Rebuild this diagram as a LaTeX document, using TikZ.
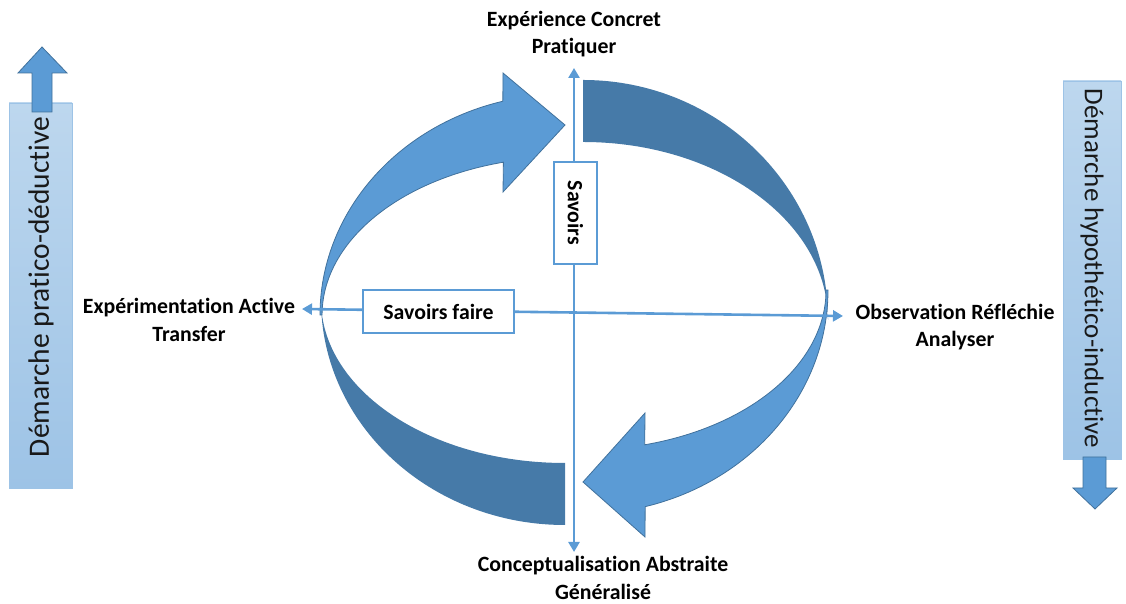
\documentclass[tikz,border=0pt]{standalone}
\usepackage{fontspec}
\setmainfont{Carlito}[Ligatures={NoCommon}]
\usetikzlibrary{arrows.meta}
\definecolor{lblue}{HTML}{5B9BD5}
\definecolor{lborder}{HTML}{41719C}
\definecolor{dblue}{RGB}{70,122,168}
\definecolor{sidetop}{HTML}{BDD7EE}
\definecolor{sidebot}{HTML}{9DC3E6}
\begin{document}
\begin{tikzpicture}[x=1pt,y=1pt,
  lbl/.style={font=\fontsize{21.8}{27.5}\selectfont\bfseries, align=center, inner sep=0pt},
  axisline/.style={draw=lblue, line width=2.6pt, {Triangle[length=10pt,width=11pt]}-{Triangle[length=10pt,width=11pt]}},
  wbox/.style={draw=lblue, line width=2pt, fill=white, inner sep=0pt, font=\fontsize{21.8}{27}\selectfont\bfseries},
  light/.style={fill=lblue, draw=lborder, line width=0.8pt},
  dark/.style={fill=dblue, draw=none},
  side/.style={top color=sidetop, bottom color=sidebot, draw=sidebot, line width=0.8pt, inner sep=0pt},
  sidetext/.style={inner sep=0pt, text=black!90}]

\path[use as bounding box] (0,0) rectangle (1126,604);

% side panels
\node[side, minimum width=63pt, minimum height=385pt] (lbox) at (40.5,308.5) {};
\node[sidetext, rotate=90, font=\fontsize{29.5}{31}\selectfont] (ltext) at (41,317) {Démarche pratico-déductive};
\draw[light] (32,492) -- (32,531) -- (18,531) -- (42,557) -- (67,531) -- (52,531) -- (52,492) -- cycle;

\node[side, minimum width=58pt, minimum height=378pt] (rbox) at (1092,334) {};
\node[sidetext, rotate=-90, font=\fontsize{27}{29}\selectfont] (rtext) at (1092,335.5) {Démarche hypothético-inductive};
\draw[light] (1083,147) -- (1083,116) -- (1073,116) -- (1095,95) -- (1117,116) -- (1106,116) -- (1106,147) -- cycle;

% dark bands
\fill[dark] (583,524) arc[start angle=90,end angle=0,x radius=245,y radius=240]
  arc[start angle=0,end angle=90,x radius=245,y radius=178] -- cycle;
\fill[dark] (321,304) arc[start angle=180,end angle=270,x radius=244,y radius=225]
  -- (565,141) arc[start angle=270,end angle=180,x radius=244,y radius=163] -- cycle;

% light curved arrows
\draw[light] (320,289) arc[start angle=180,end angle=104.7,x radius=245,y radius=221]
  -- (503,531) -- (565,479) -- (503,412) -- (503.4,441.8)
  arc[start angle=104.7,end angle=180,x radius=243,y radius=158] -- cycle;
\draw[light] (828,314) arc[start angle=0,end angle=-75.3,x radius=245,y radius=224]
  -- (645,67) -- (583,122) -- (645,191) -- (644.7,159.2)
  arc[start angle=-75.3,end angle=0,x radius=243,y radius=160] -- cycle;

% axes
\coordinate (vtop) at (574,536);
\coordinate (vbot) at (574,52);
\coordinate (hl) at (302,295);
\coordinate (hr) at (843,288);
\draw[axisline] (vbot) -- (vtop);
\draw[axisline] (hl) -- (hr);

% boxes
\node[wbox, rotate=-90, minimum width=102pt, minimum height=43pt] (savoirs) at (575.5,391) {Savoirs};
\node[wbox, minimum width=151pt, minimum height=43pt] (sf) at (438.5,292.5) {Savoirs faire};

% labels
\node[lbl] (ltop) at (574,570) {Expérience Concret\\Pratiquer};
\node[lbl] (lbot) at (603,26) {Conceptualisation Abstraite\\Généralisé};
\node[lbl] (lleft) at (189,284) {Expérimentation Active\\Transfer};
\node[lbl] (lright) at (955,277) {Observation Réfléchie\\Analyser};
\end{tikzpicture}
\end{document}
